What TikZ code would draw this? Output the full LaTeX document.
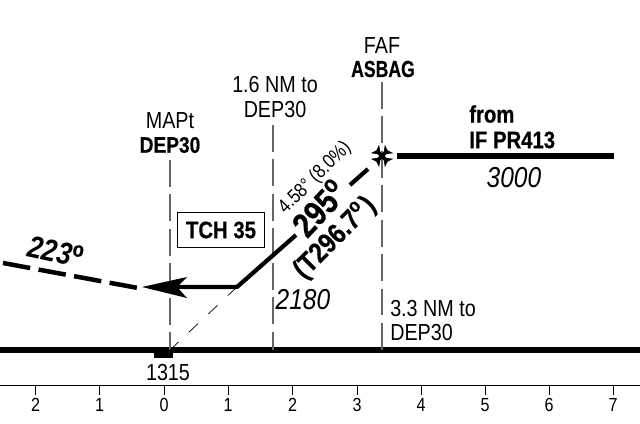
\documentclass[tikz,border=0pt]{standalone}
\usepackage{fontspec}
\setmainfont{Liberation Sans}[FakeStretch=0.85, BoldFeatures={FakeBold=0.5}]
\newfontfamily\narrowfont{Liberation Sans}[FakeStretch=0.76, BoldFeatures={FakeBold=0.5}]
\usetikzlibrary{positioning}
\tikzset{
  lbl/.style = {inner sep = 0, font = \fontsize{16.5}{18}\selectfont},
  bld/.style = {inner sep = 0, font = \fontsize{16}{18}\selectfont\bfseries},
  alt/.style = {inner sep = 0, font = \fontsize{20.5}{22}\selectfont\itshape},
  tick/.style = {inner sep = 0, font = \fontsize{13.5}{14}\selectfont},
  fixline/.style = {draw = black!60, line width = 0.8pt, dash pattern = on 19pt off 5.5pt},
  heavy/.style = {line width = 3.6pt},
}
\begin{document}
\begin{tikzpicture}[x=0.025cm, y=-0.025cm]
  \useasboundingbox (0, 0) rectangle (640, 423);
  % runway and distance scale
  \coordinate (rwyl) at (0, 350);
  \coordinate (rwyr) at (640, 350);
  \coordinate (axl) at (0, 385);
  \coordinate (axr) at (640, 385);
  \draw [line width = 3.8pt] (rwyl) -- (rwyr);
  \fill (154, 350) rectangle (173, 358);
  \draw [line width = 0.7pt] (axl) -- (axr);
  \foreach \x/\l in {35.5/2, 99.5/1, 164/0, 228/1, 292.5/2, 357/3, 421/4, 485/5, 549/6, 613/7} {
    \draw [line width = 0.6pt] (\x, 385) -- (\x, 395);
    \node [tick] at (\x, 405) {\l};
  }
  % fix lines
  \node [lbl] (faf) at (382, 46) {FAF};
  \node [bld, font = \fontsize{16.5}{18}\selectfont\narrowfont\bfseries] (asbag) at (383, 69) {ASBAG};
  \node [lbl] (onesix) at (275, 85) {1.6 NM to};
  \node [lbl] (dept) at (275, 110) {DEP30};
  \node [lbl] (mapt) at (170, 121) {MAPt};
  \node [bld] (depm) at (170, 145) {DEP30};
  \coordinate (fafb) at (382, 350);
  \coordinate (midb) at (273, 350);
  \coordinate (mapb) at (170, 350);
  \coordinate (faft) at (382, 82);
  \coordinate (midt) at (273, 125);
  \coordinate (mapt0) at (170, 160);
  \draw [fixline] (faft) -- (fafb);
  \draw [fixline] (midt) -- (midb);
  \draw [fixline] (mapt0) -- (mapb);
  % final approach
  \coordinate (fafx) at (382, 156);
  \coordinate (ifend) at (614, 156);
  \coordinate (ifstart) at (397, 156);
  \coordinate (gsa) at (368, 169);
  \coordinate (gsb) at (350, 185);
  \coordinate (gsc) at (296, 235);
  \coordinate (gsd) at (237, 287);
  \coordinate (tip) at (142, 287);
  \coordinate (back) at (177, 287);
  \coordinate (missa) at (138, 288);
  \coordinate (missb) at (3, 263);
  \draw [heavy] (ifstart) -- (ifend);
  \draw [line width = 3pt] (gsa) -- (gsb);
  \draw [line width = 3pt, line join = round] (gsc) -- (gsd) -- (back);
  \fill (tip) -- (187, 277) -- (back) -- (187, 298) -- cycle;
  \draw [line width = 0.5pt, dash pattern = on 9pt off 10pt] (gsd) -- (mapb);
  \draw [line width = 3.2pt, dash pattern = on 19.7pt off 6pt] (missb) -- (missa);
  \foreach \a in {45, 135, 225, 315} {
    \fill [shift = {(fafx)}, rotate = \a] (0, -1.8) -- (4.5, -1.8) -- (10, -6) -- (8, 0) -- (10, 6) -- (4.5, 1.8) -- (0, 1.8) -- cycle;
  }
  % texts
  \node [bld, font = \fontsize{17}{18}\selectfont\bfseries, anchor = west] (from) at (469, 114) {from};
  \node [bld, font = \fontsize{17}{18}\selectfont\bfseries, anchor = west] (ifpr) at (469, 140) {IF PR413};
  \node [alt] (altif) at (514, 178) {3000};
  \node [alt] (altmid) at (303, 300) {2180};
  \node [lbl, anchor = west] (threet) at (390, 309) {3.3 NM to};
  \node [lbl, anchor = west] (dept2) at (390, 333) {DEP30};
  \node [lbl] (elev) at (168, 373) {1315};
  \node [draw, line width = 0.6pt, minimum width = 62pt, minimum height = 24.5pt, inner sep = 0, font = \fontsize{17}{18}\selectfont\bfseries] (tch) at (221, 230) {TCH 35};
  \node [inner sep = 0, rotate = -12, font = \fontsize{22}{22}\selectfont\bfseries\itshape] (outb) at (57, 252) {223$^{\mathbf{o}}$};
  \node [inner sep = 0, rotate = 45, font = \fontsize{14}{14}\selectfont] (slope) at (315, 178) {4.58° (8.0\%)};
  \node [inner sep = 0, rotate = 47, font = \fontsize{24.5}{24}\selectfont\bfseries] (crs) at (320, 207) {295$^{\mathbf{o}}$};
  \node [inner sep = 0, rotate = 45, font = \fontsize{20}{20}\selectfont\bfseries] (tcrs) at (335, 238) {(T296.7$^{\mathbf{o}}$)};
\end{tikzpicture}
\end{document}
